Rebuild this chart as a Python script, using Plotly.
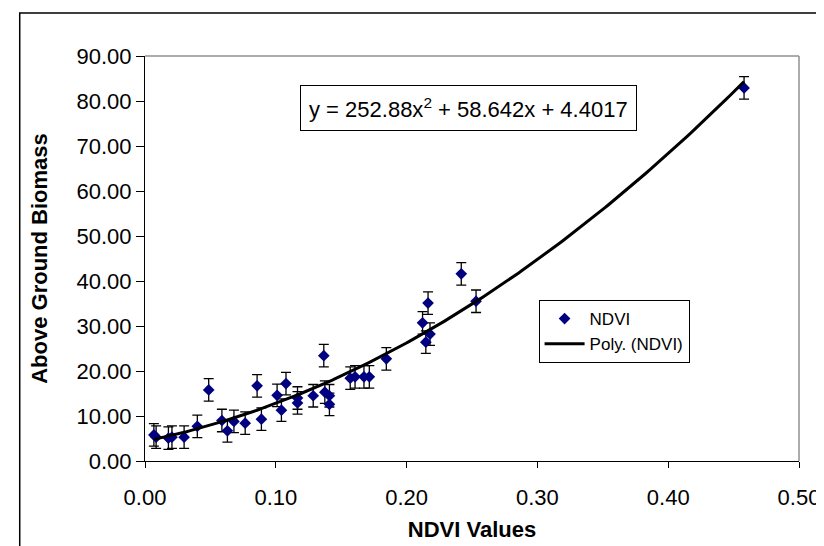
import numpy as np
import plotly.graph_objects as go

# NDVI values (x) and above ground biomass (y)
ndvi = [0.0068, 0.0085, 0.0179, 0.0206, 0.0299, 0.0400, 0.0487, 0.0588, 0.0630,
        0.0680, 0.0766, 0.0857, 0.0890, 0.1010, 0.1043, 0.1078, 0.1166, 0.1166,
        0.1286, 0.1367, 0.1375, 0.1410, 0.1410, 0.1569, 0.1606, 0.1674, 0.1715,
        0.1845, 0.2122, 0.2164, 0.2147, 0.2179, 0.2418, 0.2531, 0.4580]
biomass = [5.8, 5.3, 5.1, 5.3, 5.3, 7.7, 15.8, 9.0, 6.7,
           8.8, 8.4, 16.7, 9.3, 14.6, 11.3, 17.2, 14.0, 12.9,
           14.5, 23.4, 15.3, 14.5, 12.6, 18.4, 18.7, 18.7, 18.7,
           22.7, 30.7, 35.1, 26.4, 28.2, 41.6, 35.5, 82.9]
err = [2.5] * len(ndvi)

# Polynomial trendline coefficients shown on the chart
coef = [252.88, 58.642, 4.4017]
eq_text = "y = 252.88x<sup>2</sup> + 58.642x + 4.4017"

x_ticks = [0.0, 0.1, 0.2, 0.3, 0.4, 0.5]
y_ticks = [0, 10, 20, 30, 40, 50, 60, 70, 80, 90]

xt = np.linspace(min(ndvi), max(ndvi), 200)
yt = np.polyval(coef, xt)

FONT = "Arial, Liberation Sans, sans-serif"

fig = go.Figure()
fig.add_trace(go.Scatter(
    x=ndvi, y=biomass, mode="markers", name="NDVI",
    marker=dict(symbol="diamond", size=9, color="#000080"),
    error_y=dict(type="data", array=err, visible=True, color="black",
                 thickness=1.3, width=5),
))
fig.add_trace(go.Scatter(
    x=xt, y=yt, mode="lines", name="Poly. (NDVI)",
    line=dict(color="black", width=3),
))

L, T, R, B = 137, 48, 800, 453
W, H = 824, 546
pw, ph = R - L, B - T

def px(xpix):
    return (xpix - L) / pw

def py(ypix):
    return (B - ypix) / ph

fig.update_layout(
    width=W, height=H,
    margin=dict(l=L, r=W - R, t=T, b=H - B, pad=0),
    paper_bgcolor="white", plot_bgcolor="white",
    font=dict(family=FONT, size=22, color="black"),
    showlegend=True,
    legend=dict(
        x=px(536), y=py(292), xanchor="left", yanchor="top",
        bordercolor="black", borderwidth=1, bgcolor="white",
        font=dict(size=17, family=FONT), itemwidth=40,
        tracegroupgap=0,
    ),
    xaxis=dict(
        range=[0, 0.5], tickvals=x_ticks, tickformat=".2f",
        showgrid=False, zeroline=False, showline=True, linecolor="black",
        linewidth=1, ticks="outside", ticklen=6, tickcolor="black",
        ticklabelstandoff=11,
        title=dict(text="<b>NDVI Values</b>", font=dict(size=22, family=FONT), standoff=12),
        mirror=False,
    ),
    yaxis=dict(
        range=[0, 90], tickvals=y_ticks, tickformat=".2f",
        showgrid=False, zeroline=False, showline=True, linecolor="black",
        linewidth=1, ticks="outside", ticklen=8, tickcolor="black",
        title=dict(text="<b>Above Ground Biomass</b>", font=dict(size=22, family=FONT), standoff=22),
    ),
    annotations=[dict(
        xref="paper", yref="paper", x=px(465), y=py(99.5),
        xanchor="center", yanchor="middle", showarrow=False,
        text=eq_text, font=dict(size=22, family=FONT),
        bordercolor="black", borderwidth=1, borderpad=8, bgcolor="white",
    )],
    shapes=[
        # plot area frame (grey top/right)
        dict(type="line", xref="paper", yref="paper", x0=0, x1=1, y0=1, y1=1,
             line=dict(color="#909090", width=1.5)),
        dict(type="line", xref="paper", yref="paper", x0=1, x1=1, y0=0, y1=1,
             line=dict(color="#909090", width=1.5)),
        # outer chart border (extends beyond the window)
        dict(type="rect", xref="paper", yref="paper",
             x0=px(10), x1=px(900), y0=py(700), y1=py(5),
             line=dict(color="black", width=1.5), layer="below"),
    ],
)

fig.write_html("out.html")
